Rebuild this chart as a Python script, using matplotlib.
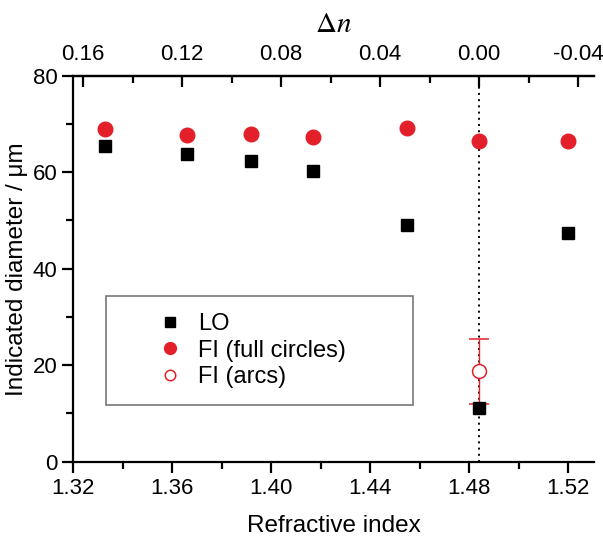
import matplotlib
matplotlib.use('Agg')
import matplotlib.pyplot as plt
from matplotlib.ticker import MultipleLocator, FixedLocator
from matplotlib.lines import Line2D

plt.rcParams['font.family'] = ['Liberation Sans', 'DejaVu Sans']
plt.rcParams['mathtext.fontset'] = 'stix'

# data
n_ref = 1.484
ri = [1.333, 1.366, 1.392, 1.417, 1.455, 1.484, 1.520]
lo = [65.4, 63.8, 62.3, 60.2, 49.0, 11.1, 47.3]
fi_full = [68.9, 67.7, 68.0, 67.3, 69.2, 66.4, 66.4]
fi_arc_x = [1.484]
fi_arc = [18.8]
fi_arc_lo = [6.8]
fi_arc_hi = [6.6]
dn_ticks = [0.16, 0.12, 0.08, 0.04, 0.00, -0.04]

red = '#e3202a'

fig = plt.figure(figsize=(6.03, 5.38), dpi=100)
ax = fig.add_axes([0.1216, 0.1418, 0.8634, 0.7175])

ax.axvline(n_ref, color='black', ls=(0, (1, 2.2)), lw=1.4, zorder=1)

ax.plot(ri, lo, 's', color='black', ms=8.6, ls='none', zorder=3)
ax.plot(ri, fi_full, 'o', color=red, ms=10.5, ls='none', zorder=3)
ax.errorbar(fi_arc_x, fi_arc, yerr=[fi_arc_lo, fi_arc_hi], fmt='o', mfc='white',
            mec=red, ecolor=red, ms=10, mew=1.1, elinewidth=1.0, capsize=7,
            capthick=1.0, zorder=2)

ax.set_xlim(1.32, 1.5304)
ax.set_ylim(0, 80)
ax.xaxis.set_major_locator(MultipleLocator(0.04))
ax.xaxis.set_minor_locator(MultipleLocator(0.02))
ax.yaxis.set_major_locator(MultipleLocator(20))
ax.yaxis.set_minor_locator(MultipleLocator(10))
ax.xaxis.set_major_formatter(plt.FormatStrFormatter('%.2f'))

for s in ['left', 'bottom', 'top']:
    ax.spines[s].set_linewidth(1.6)
ax.spines['right'].set_visible(False)

ax.tick_params(which='major', direction='out', length=8, width=1.6, labelsize=16, top=False)
ax.tick_params(which='minor', direction='out', length=5, width=1.6, top=False)

ax.set_xlabel('Refractive index', fontsize=17.5, labelpad=12)
ax.set_ylabel('Indicated diameter / μm', fontsize=17.5, labelpad=3)

sec = ax.secondary_xaxis('top', functions=(lambda n: n_ref - n, lambda d: n_ref - d))
sec.xaxis.set_major_locator(FixedLocator(dn_ticks))
sec.xaxis.set_minor_locator(FixedLocator([0.14, 0.10, 0.06, 0.02, -0.02]))
sec.xaxis.set_major_formatter(plt.FormatStrFormatter('%.2f'))
sec.tick_params(which='major', direction='in', length=8, width=1.6, labelsize=16, pad=8)
sec.tick_params(which='minor', direction='in', length=5, width=1.6)
sec.spines['top'].set_linewidth(1.6)
sec.set_xlabel(r'$\Delta n$', fontsize=21, labelpad=8)

handles = [
    Line2D([], [], marker='s', color='black', ms=7, ls='none'),
    Line2D([], [], marker='o', color=red, ms=8.5, ls='none'),
    Line2D([], [], marker='o', mfc='white', mec=red, mew=1.1, ms=7.5, ls='none'),
]
labels = ['LO', 'FI (full circles)', 'FI (arcs)']
leg = ax.legend(handles, labels, loc='lower left', bbox_to_anchor=(0.063, 0.147, 0.589, 0.285),
                mode='expand', borderaxespad=0, fontsize=17, frameon=True, fancybox=False,
                handletextpad=-0.8, borderpad=0.7, labelspacing=0.2, handlelength=4.0)
leg.get_frame().set_edgecolor('#555555')
leg.get_frame().set_linewidth(1.2)

fig.savefig('out.png', dpi=100)
